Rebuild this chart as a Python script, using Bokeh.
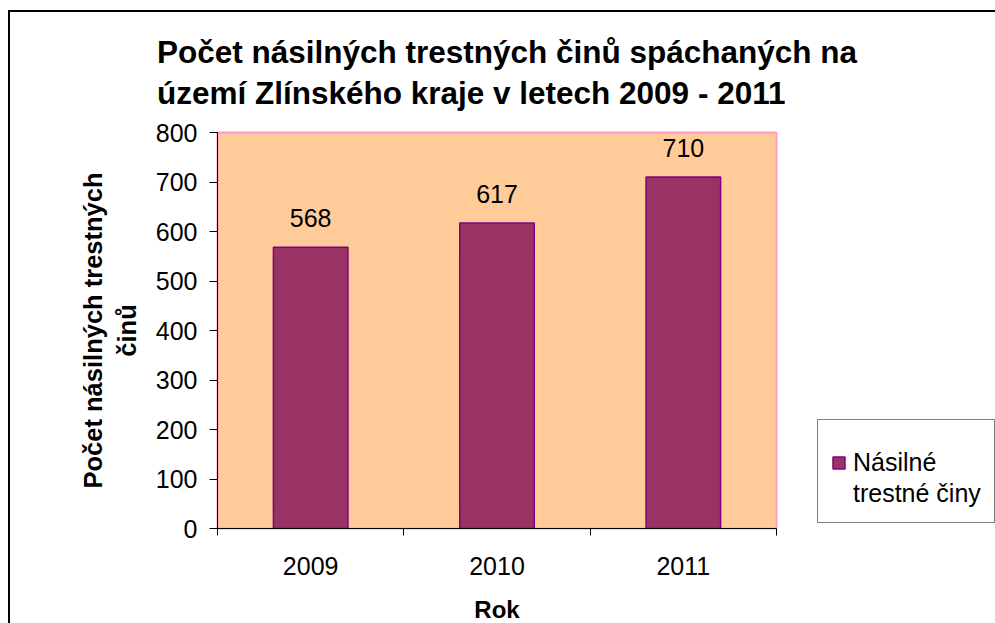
from bokeh.plotting import figure
from bokeh.models import Range1d, FixedTicker, Legend, LegendItem
from bokeh.embed import file_html
from bokeh.resources import INLINE
from bokeh.core.properties import value

# ---- data ----
years = ["2009", "2010", "2011"]
counts = [568, 617, 710]
y_ticks = [0, 100, 200, 300, 400, 500, 600, 700, 800]
title_lines = ["Počet násilných trestných činů spáchaných na",
               "území Zlínského kraje v letech 2009 - 2011"]
y_label_lines = ["Počet násilných trestných", "činů"]
x_label = "Rok"
series_lines = ["Násilné", "trestné činy"]

FONT = "Liberation Sans"
n = len(years)
centers = [i + 1 for i in range(n)]
bounds = [i + 0.5 for i in range(n + 1)]

p = figure(frame_width=559, frame_height=396, output_backend="svg",
           toolbar_location=None,
           x_range=Range1d(0.5, n + 0.5), y_range=Range1d(y_ticks[0], y_ticks[-1]),
           min_border_left=217, min_border_right=219, min_border_top=132,
           min_border_bottom=95)
p.background_fill_color = "#FFCC99"
p.border_fill_color = None
p.outline_line_color = "#FF99CC"
p.outline_line_width = 2
p.xgrid.visible = False
p.ygrid.visible = False
p.styles = {"box-shadow": "inset 8px 0 0 0 white, inset 0 10px 0 0 white, "
                          "inset 10px 12px 0 0 black"}

r = p.vbar(x=centers, top=counts, bottom=0, width=0.4,
           fill_color="#993366", line_color="#800080", line_width=1.5)

p.text(x=centers, y=counts, text=[str(c) for c in counts],
       text_font=value(FONT), text_font_size="25px", text_align="center",
       text_baseline="alphabetic", y_offset=-29, text_color="black")

# x axis
xa = p.xaxis[0]
xa.ticker = FixedTicker(ticks=centers, minor_ticks=bounds)
xa.major_label_overrides = {c: y for c, y in zip(centers, years)}
xa.major_tick_out = 0
xa.major_tick_in = 0
xa.minor_tick_out = 7
xa.minor_tick_in = 0
xa.minor_tick_line_color = "black"
xa.axis_line_color = "black"
xa.major_label_text_font = FONT
xa.major_label_text_font_size = "25px"
xa.major_label_text_color = "black"
xa.major_label_standoff = 21
xa.axis_label = x_label
xa.axis_label_text_font = FONT
xa.axis_label_text_font_size = "24px"
xa.axis_label_text_font_style = "bold"
xa.axis_label_text_color = "black"
xa.axis_label_standoff = 18

# y axis
ya = p.yaxis[0]
ya.ticker = FixedTicker(ticks=y_ticks, minor_ticks=[])
ya.major_tick_out = 8
ya.major_tick_in = 0
ya.major_tick_line_color = "black"
ya.minor_tick_out = 0
ya.minor_tick_in = 0
ya.axis_line_color = "black"
ya.major_label_text_font = FONT
ya.major_label_text_font_size = "25px"
ya.major_label_text_color = "black"
ya.major_label_standoff = 12
ya.axis_label = "\n".join(y_label_lines)
ya.axis_label_text_font = FONT
ya.axis_label_text_font_size = "25.5px"
ya.axis_label_text_font_style = "bold"
ya.axis_label_text_color = "black"
ya.axis_label_standoff = 12

# title
p.title.text = "\n".join(title_lines)
p.title.text_font = FONT
p.title.text_font_size = "31.5px"
p.title.text_font_style = "bold"
p.title.text_color = "black"
p.title.align = "center"
p.title.text_line_height = 1.16
p.title.standoff = 42
p.title.padding = dict(left=20, right=0, top=0, bottom=0)

# legend
legend = Legend(items=[LegendItem(label=series_lines[0], renderers=[r]),
                       LegendItem(label=series_lines[1], renderers=[])],
                location=(41, 5), margin=0, padding=13, spacing=0,
                label_height=31,
                title=" ", title_text_font_size="10px", title_standoff=3,
                border_line_color="black", border_line_width=1.5,
                background_fill_color="white", background_fill_alpha=1,
                glyph_width=15, glyph_height=15, label_standoff=7,
                label_text_font=FONT, label_text_font_size="25px",
                label_text_color="black")
p.add_layout(legend, "right")

open("out.html", "w").write(file_html(p, INLINE))
